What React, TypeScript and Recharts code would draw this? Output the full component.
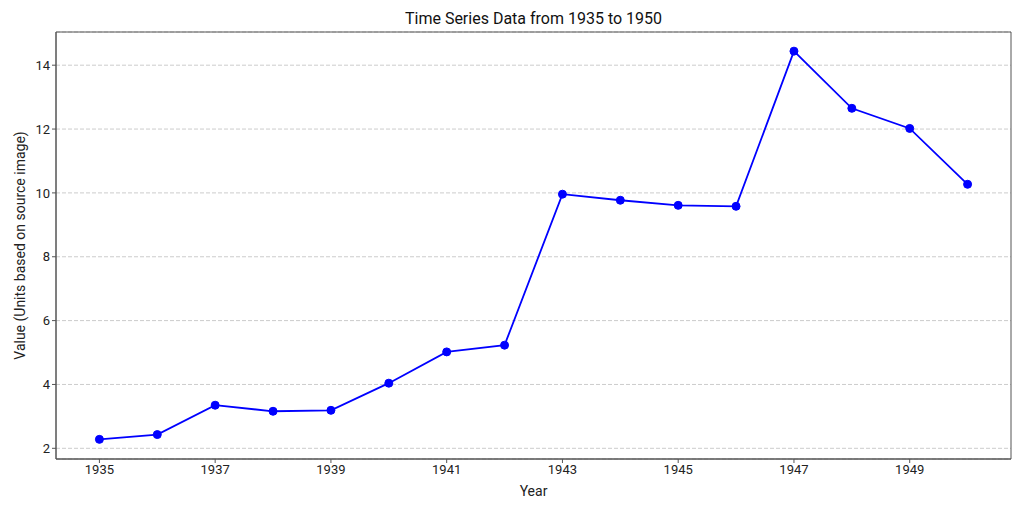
import {
  LineChart,
  Line,
  XAxis,
  YAxis,
  CartesianGrid,
  ReferenceArea,
} from "recharts";

// valores
const years = [1935, 1936, 1937, 1938, 1939, 1940, 1941, 1942, 1943, 1944, 1945, 1946, 1947, 1948, 1949, 1950];
const values = [2.28, 2.43, 3.35, 3.16, 3.19, 4.04, 5.02, 5.23, 9.96, 9.77, 9.61, 9.58, 14.44, 12.65, 12.02, 10.27];
const xTicks = [1935, 1937, 1939, 1941, 1943, 1945, 1947, 1949];
const yTicks = [2, 4, 6, 8, 10, 12, 14];

const X_DOMAIN: [number, number] = [1934.25, 1950.75];
const Y_DOMAIN: [number, number] = [1.665, 15.04];

const FONT = "Roboto, 'DejaVu Sans', sans-serif";
const AXIS = "#555";

export default function App() {
  const data = years.map((year, i) => ({ year, value: values[i] }));

  return (
    <div style={{ position: "relative", width: 1024, height: 512, margin: -8, background: "#fff", fontFamily: FONT }}>
      {/* título centrado na área do gráfico */}
      <div
        style={{
          position: "absolute",
          top: 9,
          left: 56,
          width: 955,
          textAlign: "center",
          fontSize: 16,
          color: "#111",
        }}
      >
        Time Series Data from 1935 to 1950
      </div>
      <LineChart width={1024} height={512} data={data} margin={{ top: 32, right: 13, left: 0, bottom: 0 }}>
        <CartesianGrid vertical={false} stroke="#cccccc" strokeDasharray="4 2" />
        <XAxis
          dataKey="year"
          type="number"
          domain={X_DOMAIN}
          ticks={xTicks}
          height={53}
          allowDataOverflow
          tick={{ fontSize: 13, fill: "#222", fontFamily: FONT }}
          tickLine={{ stroke: AXIS }}
          tickSize={4}
          axisLine={{ stroke: AXIS }}
          label={{ value: "Year", position: "insideBottom", offset: 16, fontSize: 14, fill: "#222", fontFamily: FONT }}
        />
        <YAxis
          type="number"
          domain={Y_DOMAIN}
          ticks={yTicks}
          width={56}
          allowDataOverflow
          tick={{ fontSize: 13, fill: "#222", fontFamily: FONT }}
          tickLine={{ stroke: AXIS }}
          tickSize={4}
          axisLine={{ stroke: AXIS }}
          label={{
            value: "Value (Units based on source image)",
            angle: -90,
            position: "insideLeft",
            offset: 20,
            style: { textAnchor: "middle" },
            fontSize: 14,
            fill: "#222",
            fontFamily: FONT,
          }}
        />
        {/* moldura completa como no matplotlib */}
        <ReferenceArea
          x1={X_DOMAIN[0]}
          x2={X_DOMAIN[1]}
          y1={Y_DOMAIN[0]}
          y2={Y_DOMAIN[1]}
          fill="none"
          stroke={AXIS}
          strokeWidth={1}
          ifOverflow="visible"
        />
        <Line
          dataKey="value"
          stroke="#0000ff"
          strokeWidth={1.8}
          dot={{ r: 4, fill: "#0000ff", stroke: "#0000ff", strokeWidth: 1 }}
          isAnimationActive={false}
        />
      </LineChart>
    </div>
  );
}
